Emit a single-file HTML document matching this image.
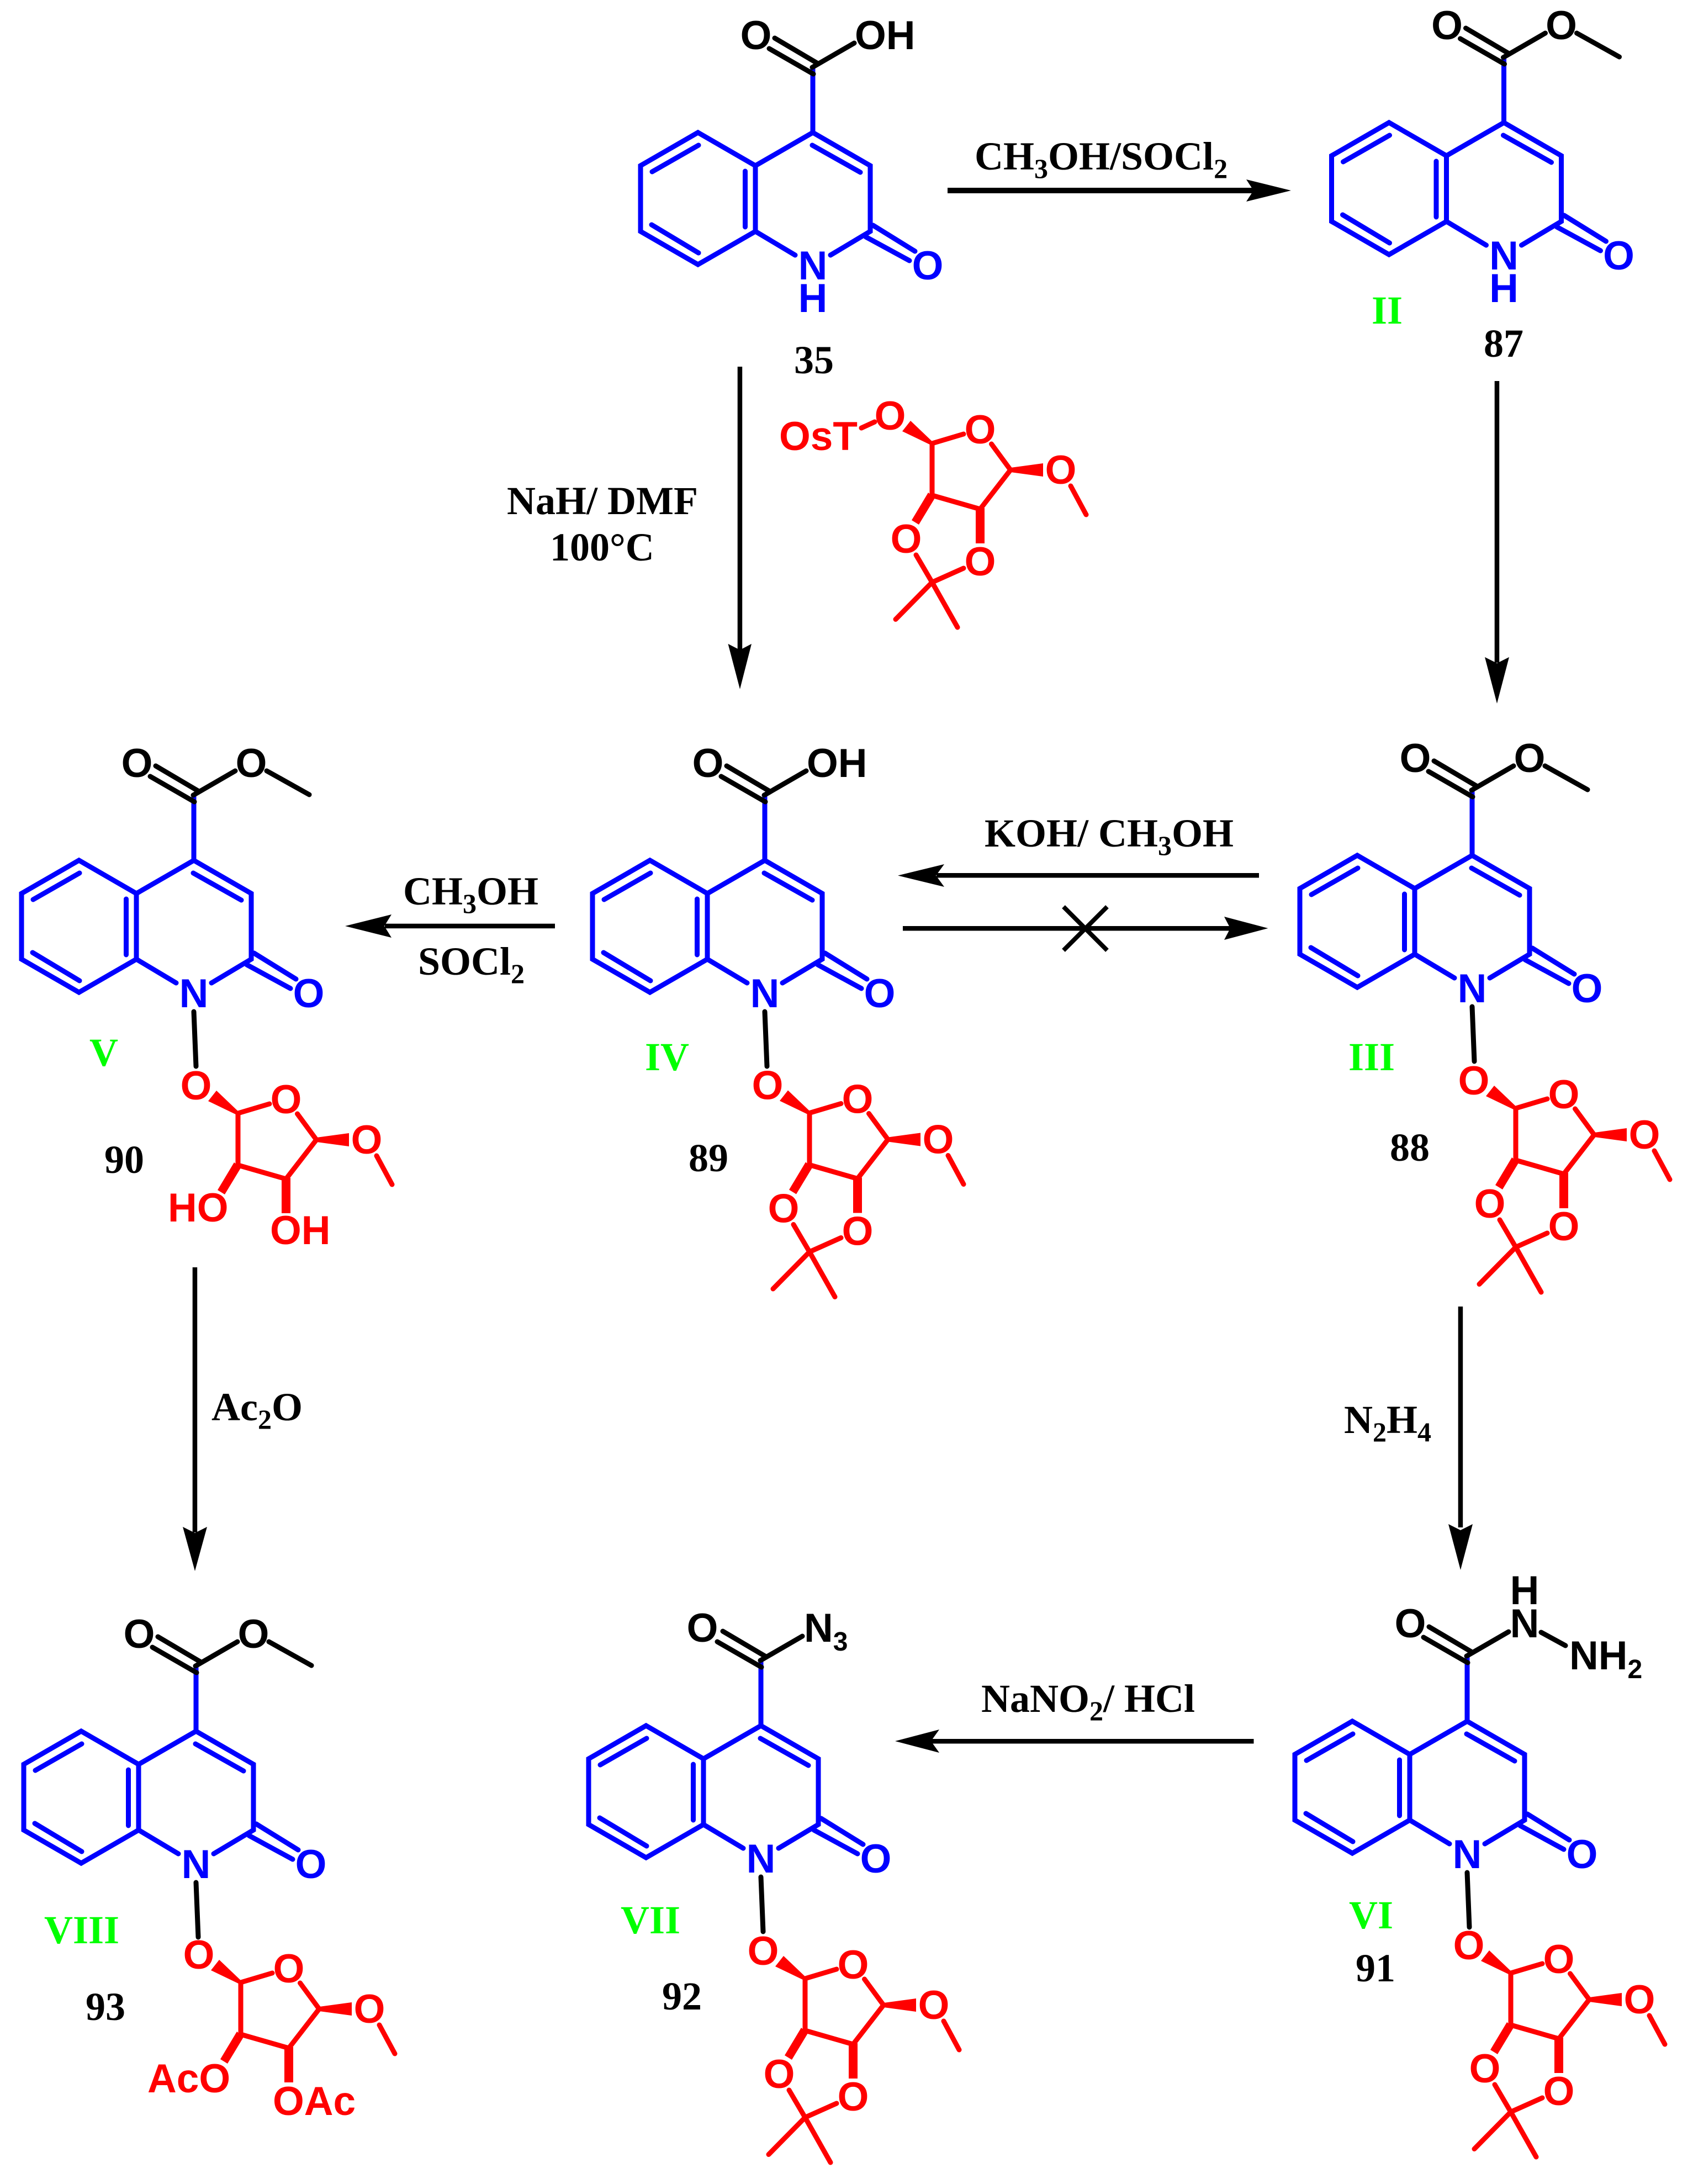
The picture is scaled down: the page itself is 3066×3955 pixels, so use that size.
<!DOCTYPE html>
<html><head><meta charset="utf-8"><style>
html,body{margin:0;padding:0;background:#fff}
svg{display:block}
.a{font:bold 73px "Liberation Sans",sans-serif;text-anchor:middle}
.st{font:bold 73px "Liberation Sans",sans-serif;text-anchor:start}
.l{font:bold 72px "Liberation Serif",serif}
.g{fill:#00ff00}
.b{fill:#0000ff}.r{fill:#ff0000}.k{fill:#000}
</style></head><body>
<svg xmlns="http://www.w3.org/2000/svg" width="3066" height="3955" viewBox="0 0 3066 3955">
<rect width="3066" height="3955" fill="#fff"/>
<defs>
<g id="q" fill="none" stroke="#0000ff" stroke-width="9" stroke-linecap="round" stroke-linejoin="miter">
<path d="M0 -118V0L-104 60L-208 0L-312 60V179L-208 239L-104 179V60M0 0L104 60V179L32 222M-104 179L-32 222"/>
<path d="M-291 71L-207 23M-122.500 70V171M-292 167L-207 218M-1 23L86 72M109 168L185 215M96 189L175 232"/>
</g>
<g id="c" fill="none" stroke="#000" stroke-width="9" stroke-linecap="round">
<path d="M-69 -171L9 -125M-79 -152L1 -106M-1 -118L75 -162"/>
</g>
<path id="me" d="M132 -162L209 -119" fill="none" stroke="#000" stroke-width="9" stroke-linecap="round"/>
<path id="no" d="M0 274L4 373" fill="none" stroke="#000" stroke-width="9" stroke-linecap="round"/>
<g id="su">
<path d="M57 -17L0 0V94L87 119L142 48L107.500 1M251 77L279 129" fill="none" stroke="#ff0000" stroke-width="9" stroke-linecap="round" stroke-linejoin="round"/>
<path d="M0 4L-54 -22L-39 -41L4 0ZM142 44L201 36V60L142 52ZM-7 89L5 99L-24 147L-37 139ZM79 117H95V181H79Z" fill="#ff0000"/>
</g>
<path id="iso" d="M-29 202L0 251.500M57 226L0 251.500M-66 318.500L0 251.500L46 333" fill="none" stroke="#ff0000" stroke-width="9" stroke-linecap="round" stroke-linejoin="round"/>
</defs>

<!-- 35 -->
<g transform="translate(1472,240)"><use href="#q"/><use href="#c"/>
<text class="a b" x="0" y="266">N</text><text class="a b" x="0" y="325">H</text><text class="a b" x="208" y="266">O</text>
<text class="a k" x="-103" y="-151">O</text><text class="st k" x="76" y="-151">OH</text></g>
<text class="l k" x="1438" y="676">35</text>

<!-- 87 -->
<g transform="translate(2723.500,222)"><use href="#q"/><use href="#c"/><use href="#me"/>
<text class="a b" x="0" y="266">N</text><text class="a b" x="0" y="325">H</text><text class="a b" x="208" y="266">O</text>
<text class="a k" x="-103" y="-151">O</text><text class="a k" x="104" y="-151">O</text></g>
<text class="l g" x="2484" y="586">II</text>
<text class="l k" x="2687" y="646">87</text>

<!-- free sugar -->
<g transform="translate(1688,803)"><use href="#su"/><use href="#iso"/>
<path d="M-128 -28L-104 -39" fill="none" stroke="#ff0000" stroke-width="9" stroke-linecap="round"/>
<text class="a r" x="-76" y="-25">O</text><text class="a r" x="87" y="0">O</text><text class="a r" x="233" y="73">O</text>
<text class="a r" x="-47" y="198">O</text><text class="a r" x="87" y="239">O</text></g>
<text class="st r" x="1411" y="815">OsT</text>

<!-- 88 -->
<g transform="translate(2666,1549)"><use href="#q"/><use href="#c"/><use href="#me"/><use href="#no"/>
<text class="a b" x="0" y="266">N</text><text class="a b" x="208" y="266">O</text>
<text class="a k" x="-103" y="-151">O</text><text class="a k" x="104" y="-151">O</text></g>
<g transform="translate(2745,2007)"><use href="#su"/><use href="#iso"/>
<text class="a r" x="-76" y="-25">O</text><text class="a r" x="87" y="0">O</text><text class="a r" x="233" y="73">O</text>
<text class="a r" x="-47" y="198">O</text><text class="a r" x="87" y="239">O</text></g>
<text class="l g" x="2442" y="1938">III</text>
<text class="l k" x="2517" y="2102">88</text>

<!-- 89 -->
<g transform="translate(1385,1558)"><use href="#q"/><use href="#c"/><use href="#no"/>
<text class="a b" x="0" y="266">N</text><text class="a b" x="208" y="266">O</text>
<text class="a k" x="-103" y="-151">O</text><text class="st k" x="76" y="-151">OH</text></g>
<g transform="translate(1466,2015.500)"><use href="#su"/><use href="#iso"/>
<text class="a r" x="-76" y="-25">O</text><text class="a r" x="87" y="0">O</text><text class="a r" x="233" y="73">O</text>
<text class="a r" x="-47" y="198">O</text><text class="a r" x="87" y="239">O</text></g>
<text class="l g" x="1168" y="1938">IV</text>
<text class="l k" x="1247" y="2121">89</text>

<!-- 90 -->
<g transform="translate(351,1558)"><use href="#q"/><use href="#c"/><use href="#me"/><use href="#no"/>
<text class="a b" x="0" y="266">N</text><text class="a b" x="208" y="266">O</text>
<text class="a k" x="-103" y="-151">O</text><text class="a k" x="104" y="-151">O</text></g>
<g transform="translate(431,2016)"><use href="#su"/>
<text class="a r" x="-76" y="-25">O</text><text class="a r" x="87" y="0">O</text><text class="a r" x="233" y="73">O</text></g>
<text class="st r" x="304" y="2212">HO</text>
<text class="st r" x="489" y="2253">OH</text>
<text class="l g" x="162" y="1930">V</text>
<text class="l k" x="189" y="2124">90</text>

<!-- 91 -->
<g transform="translate(2657,3117)"><use href="#q"/><use href="#c"/>
<path d="M134 -161L178 -137" fill="none" stroke="#000" stroke-width="9" stroke-linecap="round"/>
<use href="#no"/>
<text class="a b" x="0" y="266">N</text><text class="a b" x="208" y="266">O</text>
<text class="a k" x="-103" y="-152">O</text>
<text class="a k" x="104" y="-152">N</text><text class="a k" x="104" y="-212">H</text>
<text class="st k" x="185" y="-94">NH<tspan dy="16" font-size="48">2</tspan></text></g>
<g transform="translate(2736,3573)"><use href="#su"/><use href="#iso"/>
<text class="a r" x="-76" y="-25">O</text><text class="a r" x="87" y="0">O</text><text class="a r" x="233" y="73">O</text>
<text class="a r" x="-47" y="198">O</text><text class="a r" x="87" y="239">O</text></g>
<text class="l g" x="2443" y="3492">VI</text>
<text class="l k" x="2455" y="3588">91</text>

<!-- 92 -->
<g transform="translate(1378,3125)"><use href="#q"/><use href="#c"/><use href="#no"/>
<text class="a b" x="0" y="266">N</text><text class="a b" x="208" y="266">O</text>
<text class="a k" x="-106" y="-152">O</text>
<text class="st k" x="78" y="-152">N<tspan dy="16" font-size="48">3</tspan></text></g>
<g transform="translate(1458,3583)"><use href="#su"/><use href="#iso"/>
<text class="a r" x="-76" y="-25">O</text><text class="a r" x="87" y="0">O</text><text class="a r" x="233" y="73">O</text>
<text class="a r" x="-47" y="198">O</text><text class="a r" x="87" y="239">O</text></g>
<text class="l g" x="1124" y="3501">VII</text>
<text class="l k" x="1199" y="3639">92</text>

<!-- 93 -->
<g transform="translate(355,3135)"><use href="#q"/><use href="#c"/><use href="#me"/><use href="#no"/>
<text class="a b" x="0" y="266">N</text><text class="a b" x="208" y="266">O</text>
<text class="a k" x="-103" y="-151">O</text><text class="a k" x="104" y="-151">O</text></g>
<g transform="translate(436,3590)"><use href="#su"/>
<text class="a r" x="-76" y="-25">O</text><text class="a r" x="87" y="0">O</text><text class="a r" x="233" y="73">O</text></g>
<text class="st r" x="267" y="3789">AcO</text>
<text class="st r" x="494" y="3830">OAc</text>
<text class="l g" x="80" y="3519">VIII</text>
<text class="l k" x="155" y="3658">93</text>

<!-- arrows -->
<g fill="#000" stroke="none">
<rect x="1716" y="340" width="556" height="10"/><polygon points="2338,345 2257,325 2270,345 2257,365"/>
<rect x="1335.700" y="664" width="8.500" height="515"/><polygon points="1340,1248 1318.500,1166 1340,1177 1361,1166"/>
<rect x="2706.700" y="690" width="8.500" height="510"/><polygon points="2711,1274 2689,1190 2711,1201 2733,1190"/>
<rect x="2640.700" y="2366" width="8.500" height="400"/><polygon points="2645,2843 2623,2760 2645,2771 2667,2760"/>
<rect x="348.700" y="2295" width="8.500" height="480"/><polygon points="353,2845 331,2765 353,2776 375,2765"/>
<rect x="1696" y="1581" width="584" height="8.500"/><polygon points="1626,1585.500 1710,1565 1695,1585.500 1710,1606"/>
<rect x="1635" y="1677" width="595" height="8.500"/><polygon points="2296.500,1681 2217,1660 2228,1681 2217,1702"/>
<rect x="697" y="1672.700" width="308" height="8.500"/><polygon points="625,1677 709,1656 696,1677 709,1698"/>
<rect x="1686" y="3149" width="584.500" height="8.500"/><polygon points="1621,3153 1701,3132 1686,3153 1701,3174"/>
</g>
<path d="M1926 1642L2005 1721M2005 1642L1926 1721" stroke="#000" stroke-width="8" fill="none"/>

<!-- reagents -->
<text class="l k" x="1765" y="307">CH<tspan dy="15" font-size="50">3</tspan><tspan dy="-15">OH/SOCl</tspan><tspan dy="15" font-size="50">2</tspan></text>
<text class="l k" x="918" y="931">NaH/ DMF</text>
<text class="l k" x="996" y="1015">100°C</text>
<text class="l k" x="1783" y="1533">KOH/ CH<tspan dy="15" font-size="50">3</tspan><tspan dy="-15">OH</tspan></text>
<text class="l k" x="730" y="1638">CH<tspan dy="15" font-size="50">3</tspan><tspan dy="-15">OH</tspan></text>
<text class="l k" x="757" y="1765">SOCl<tspan dy="15" font-size="50">2</tspan></text>
<text class="l k" x="383" y="2572">Ac<tspan dy="15" font-size="50">2</tspan><tspan dy="-15">O</tspan></text>
<text class="l k" x="2434" y="2595">N<tspan dy="15" font-size="50">2</tspan><tspan dy="-15">H</tspan><tspan dy="15" font-size="50">4</tspan></text>
<text class="l k" x="1777" y="3100">NaNO<tspan dy="15" font-size="50">2</tspan><tspan dy="-15">/ HCl</tspan></text>
</svg>
</body></html>
